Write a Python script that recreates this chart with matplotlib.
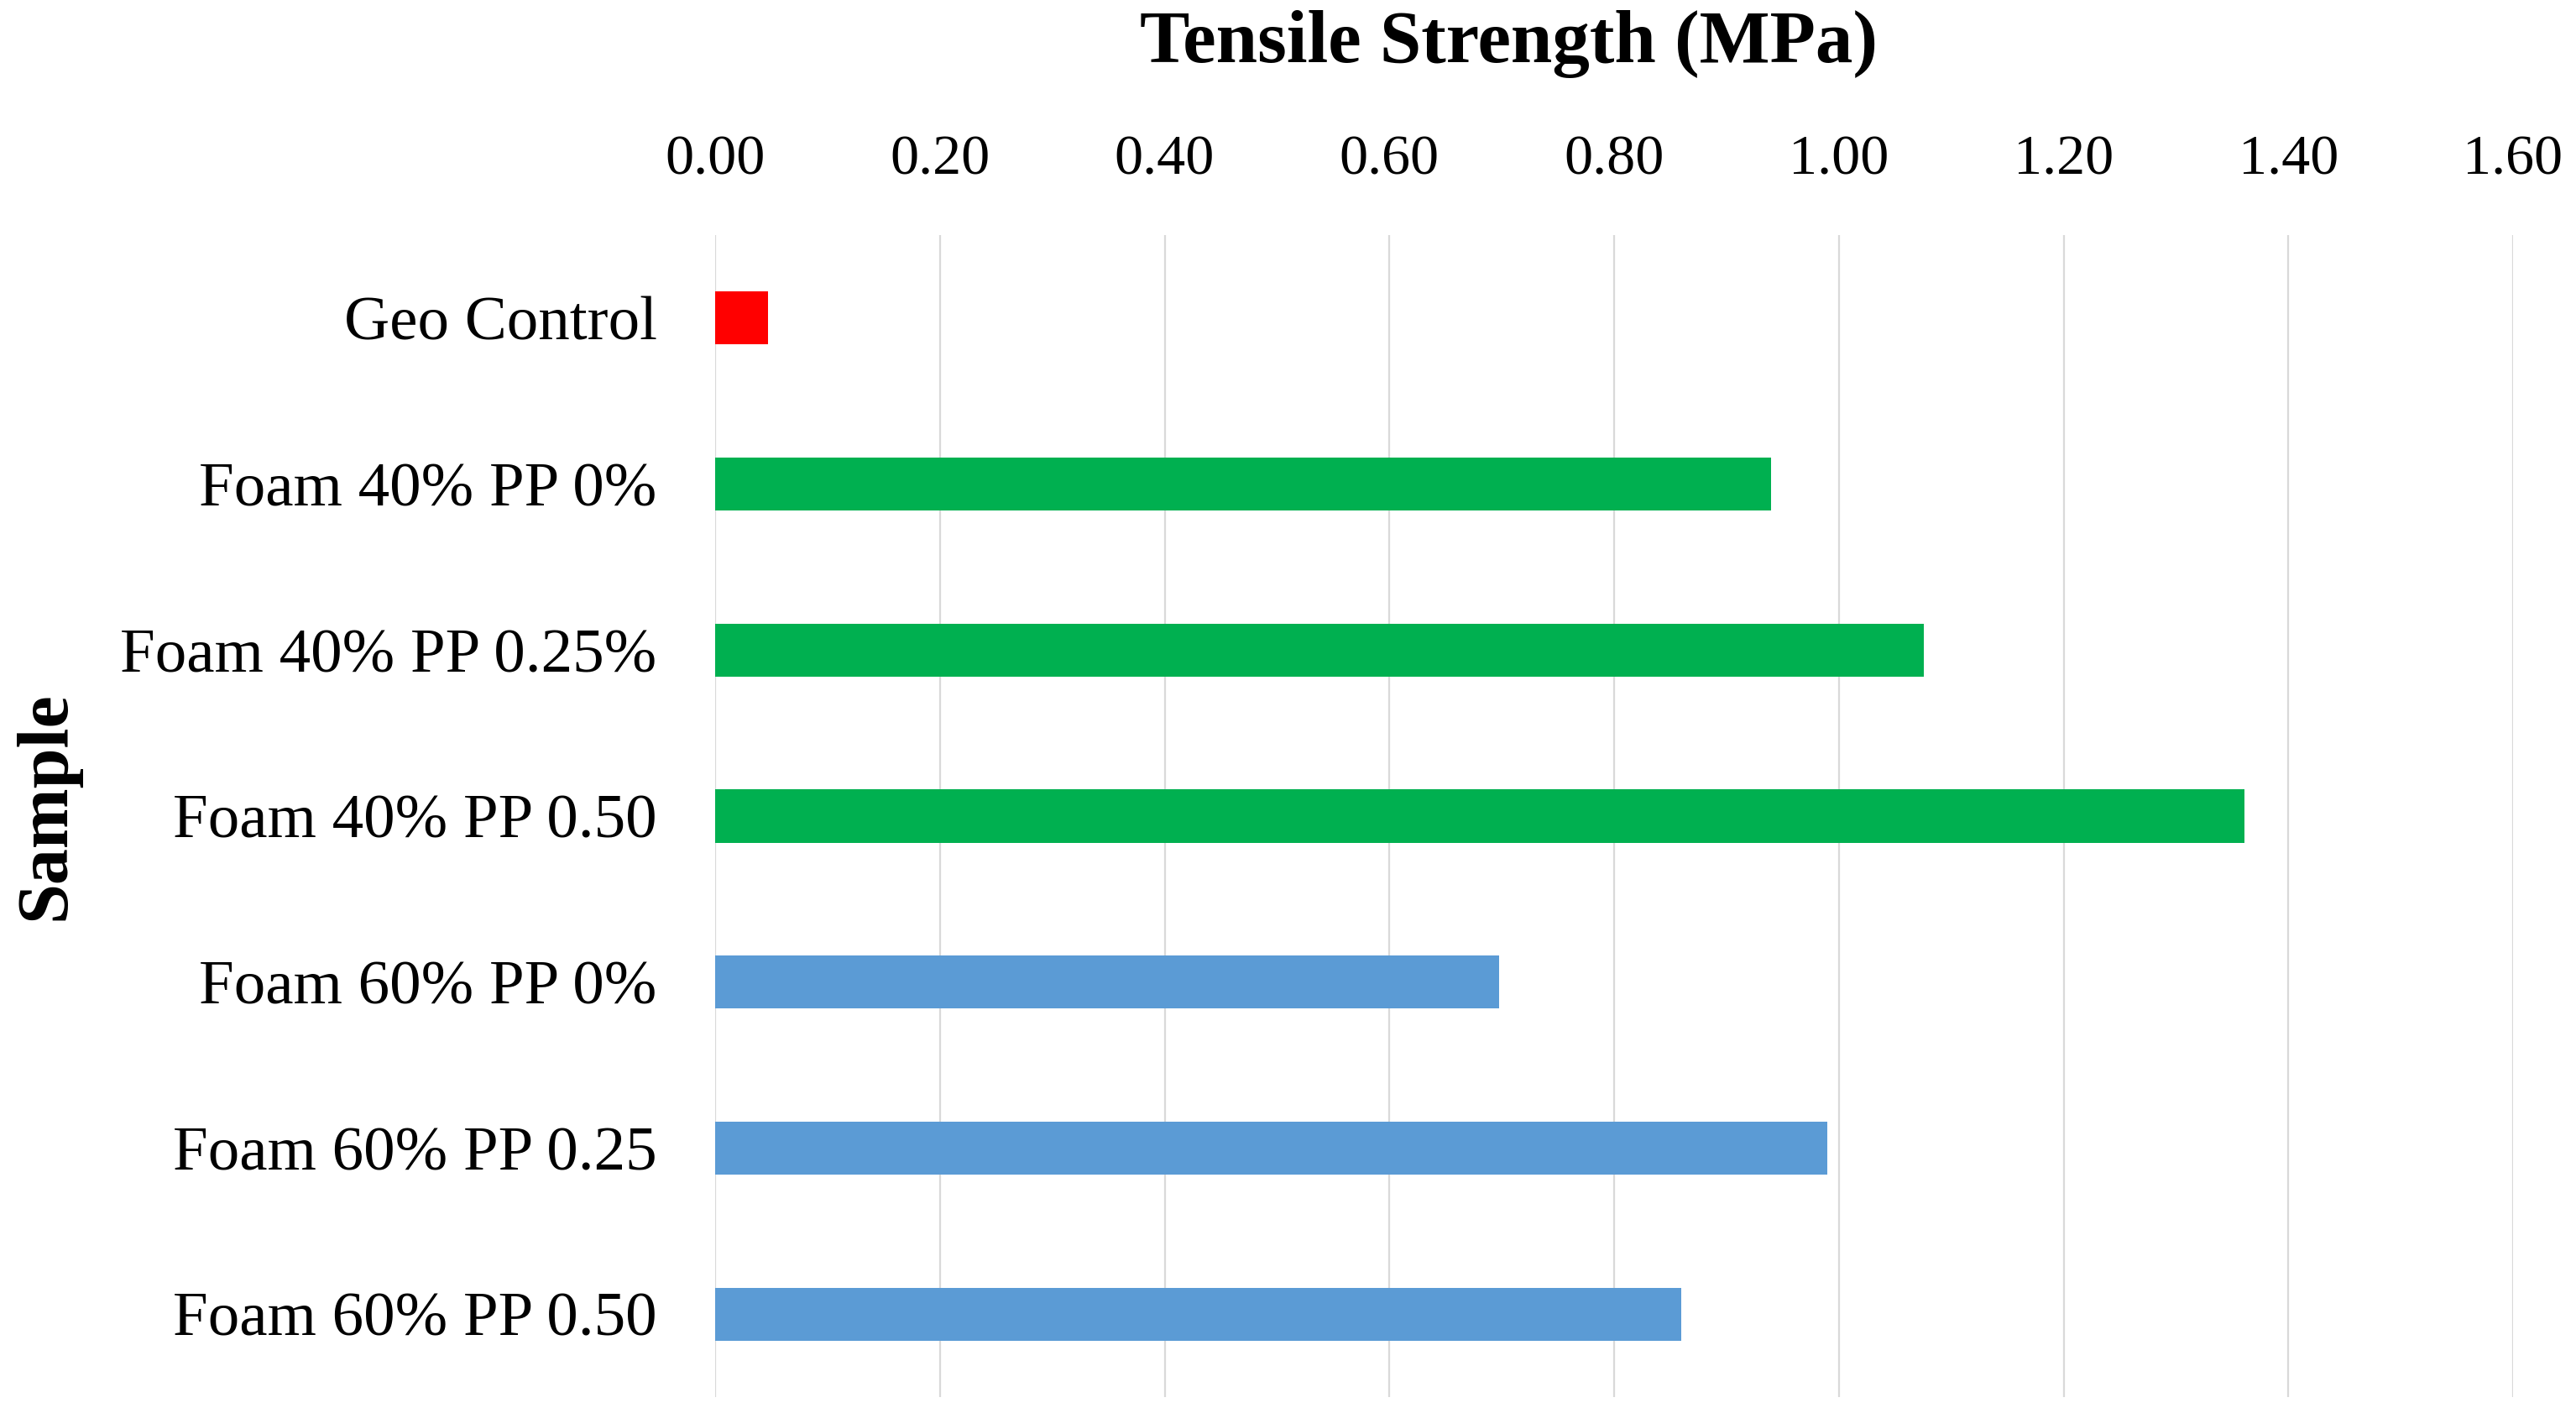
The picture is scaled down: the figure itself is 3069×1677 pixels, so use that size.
import matplotlib
matplotlib.use("Agg")
import matplotlib.pyplot as plt

samples = ["Geo Control", "Foam 40% PP 0%", "Foam 40% PP 0.25%", "Foam 40% PP 0.50",
           "Foam 60% PP 0%", "Foam 60% PP 0.25", "Foam 60% PP 0.50"]
tensile = [0.047, 0.94, 1.076, 1.361, 0.698, 0.99, 0.86]
bar_colors = ["#FF0000", "#00B050", "#00B050", "#00B050", "#5B9BD5", "#5B9BD5", "#5B9BD5"]
xticks = [0.0, 0.2, 0.4, 0.6, 0.8, 1.0, 1.2, 1.4, 1.6]
xtick_labels = ["0.00", "0.20", "0.40", "0.60", "0.80", "1.00", "1.20", "1.40", "1.60"]

W, H, DPI = 3069, 1677, 200
plt.rcParams['font.family'] = ['Liberation Serif', 'DejaVu Serif']
fig = plt.figure(figsize=(W / DPI, H / DPI), dpi=DPI)
ax = fig.add_axes([852 / W, 1 - 1664 / H, (2994 - 852) / W, (1664 - 280) / H])

y = list(range(len(samples)))
ax.barh(y, tensile, height=0.32, color=bar_colors, zorder=3)
ax.set_xlim(0, 1.6)
ax.set_ylim(len(samples) - 0.5, -0.5)
ax.set_yticks(y)
ax.set_yticklabels(samples, fontsize=27)
ax.xaxis.tick_top()
ax.set_xticks(xticks)
ax.set_xticklabels(xtick_labels, fontsize=24.5)
ax.tick_params(axis='x', length=0, pad=21)
ax.tick_params(axis='y', length=0, pad=25)
for lbl in ax.get_yticklabels():
    lbl.set_va('center_baseline')
for s in ax.spines.values():
    s.set_visible(False)
ax.grid(axis='x', color='#d9d9d9', linewidth=0.8, zorder=0)
ax.set_axisbelow(True)

fig.text(1798 / W, 1 - 74 / H, "Tensile Strength (MPa)", fontsize=32, fontweight='bold',
         ha='center', va='baseline')
fig.text(56 / W, 1 - 960 / H, "Sample", fontsize=31, fontweight='bold', rotation=90,
         ha='center', va='center')

fig.savefig("out.png", dpi=DPI, facecolor='white')
